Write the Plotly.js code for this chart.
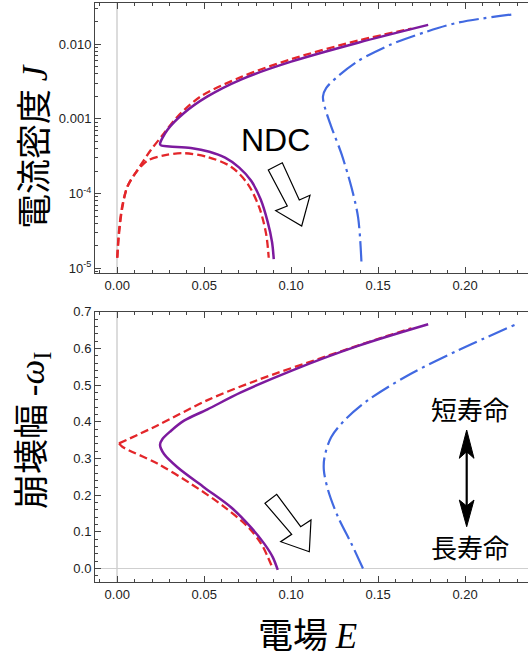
<!DOCTYPE html>
<html>
<head>
<meta charset="utf-8">
<script src="https://cdn.plot.ly/plotly-3.0.1.min.js"></script>
<style>html,body{margin:0;padding:0;background:#fff;}#chart{width:528px;height:659px;}</style>
</head>
<body>
<div id="chart"></div>
<script>
// ---------- data: top panel (current density J vs field E) ----------
const purpleTopE = [0.1788, 0.1385, 0.1000, 0.0711, 0.0519, 0.0384, 0.0288, 0.0246, 0.0253, 0.0300, 0.0423, 0.0530, 0.0620, 0.0700, 0.0770, 0.0825, 0.0865, 0.0890, 0.0900];
const purpleTopJ = [0.0182, 0.0105, 0.00585, 0.00337, 0.0020, 0.0012, 0.00071, 0.00046, 0.00044, 0.000427, 0.000407, 0.000363, 0.000302, 0.000224, 0.000148, 0.0000832, 0.0000417, 0.0000224, 0.0000132];

const redUpTopE = [0.0000, 0.0010, 0.0029, 0.0058, 0.0115, 0.0192, 0.0260, 0.0346, 0.0480, 0.0711, 0.1000, 0.1385, 0.1692];
const redUpTopJ = [0.0000138, 0.0000288, 0.0000646, 0.000123, 0.000204, 0.00038, 0.000603, 0.00107, 0.0020, 0.00363, 0.00631, 0.0112, 0.0162];

const redLoTopE = [0.0000, 0.0010, 0.0030, 0.0060, 0.0100, 0.0173, 0.0269, 0.0384, 0.0519, 0.0654, 0.0750, 0.0817, 0.0856, 0.0871];
const redLoTopJ = [0.0000138, 0.0000316, 0.0000708, 0.000126, 0.000182, 0.000275, 0.000324, 0.000347, 0.000309, 0.000229, 0.000135, 0.0000646, 0.0000288, 0.0000138];

const blueTopE = [0.1404, 0.1385, 0.1346, 0.1288, 0.1230, 0.1192, 0.1183, 0.1202, 0.1269, 0.1385, 0.1577, 0.1769, 0.1960, 0.2288];
const blueTopJ = [0.0000123, 0.0000479, 0.000123, 0.000347, 0.000794, 0.00148, 0.0020, 0.0026, 0.00372, 0.00596, 0.0100, 0.0145, 0.0195, 0.0254];

// ---------- data: bottom panel (decay width -omega_I vs field E) ----------
const purpleBotE = [0.1788, 0.1385, 0.1000, 0.0711, 0.0519, 0.0384, 0.0308, 0.0260, 0.0246, 0.0269, 0.0346, 0.0500, 0.0654, 0.0769, 0.0846, 0.0894, 0.0923];
const purpleBotW = [0.666, 0.607, 0.539, 0.480, 0.434, 0.403, 0.375, 0.353, 0.337, 0.312, 0.276, 0.221, 0.167, 0.112, 0.067, 0.031, -0.004];

const redUpBotE = [0.0010, 0.0231, 0.0519, 0.0808, 0.1192, 0.1480, 0.1692];
const redUpBotW = [0.341, 0.390, 0.459, 0.514, 0.577, 0.623, 0.655];

const redLoBotE = [0.0010, 0.0029, 0.0231, 0.0423, 0.0615, 0.0750, 0.0827, 0.0865, 0.0894];
const redLoBotW = [0.341, 0.332, 0.286, 0.231, 0.168, 0.114, 0.068, 0.032, 0.000];

const blueBotE = [0.1413, 0.1346, 0.1269, 0.1212, 0.1188, 0.1192, 0.1230, 0.1307, 0.1442, 0.1673, 0.1960, 0.2288];
const blueBotW = [0.000, 0.068, 0.141, 0.214, 0.268, 0.304, 0.358, 0.404, 0.459, 0.527, 0.595, 0.665];

// ---------- tick labels ----------
const xTickVals = [0, 0.05, 0.10, 0.15, 0.20];
const xTickText = ['0.00', '0.05', '0.10', '0.15', '0.20'];
const jTickVals = [1e-5, 1e-4, 1e-3, 1e-2];
const jTickText = ['10<sup>-5</sup>', '10<sup>-4</sup>', '0.001', '0.010'];

// ---------- styles ----------
const PURPLE = '#7d1a9e', RED = '#e3262a', BLUE = '#4169e1';
const redDash = '8px,4px';
const blueDash = '20px,5px,3px,5px';
const W = 528, H = 659, ML = 95, MR = 0, MT = 3, MB = 77;
const px = x => (x - ML) / (W - ML - MR);
const py = y => (H - MB - y) / (H - MT - MB);
const path = pts => 'M' + pts.map(p => px(p[0]) + ',' + py(p[1])).join('L') + 'Z';

function tr(x, y, color, dash, xa, ya, width) {
  return {x: x, y: y, type: 'scatter', mode: 'lines', xaxis: xa, yaxis: ya,
    line: {color: color, width: width || 2.3, dash: dash, shape: 'spline', smoothing: 0.9},
    hoverinfo: 'skip'};
}

const data = [
  tr(redUpTopE, redUpTopJ, RED, redDash, 'x', 'y'),
  tr(redLoTopE, redLoTopJ, RED, redDash, 'x', 'y'),
  tr(purpleTopE, purpleTopJ, PURPLE, 'solid', 'x', 'y', 2.5),
  tr(blueTopE, blueTopJ, BLUE, blueDash, 'x', 'y', 2.2),
  tr(redUpBotE, redUpBotW, RED, redDash, 'x2', 'y2'),
  tr(redLoBotE, redLoBotW, RED, redDash, 'x2', 'y2'),
  tr(purpleBotE, purpleBotW, PURPLE, 'solid', 'x2', 'y2', 2.5),
  tr(blueBotE, blueBotW, BLUE, blueDash, 'x2', 'y2', 2.2)
];

const tickFont = {family: 'Liberation Sans, Arial, sans-serif', size: 13, color: '#222'};
const AX = '#444';
function xAxis(anchor) {
  return {anchor: anchor, domain: [0, 1], range: [-0.0128, 0.2362],
    tickmode: 'array', tickvals: xTickVals, ticktext: xTickText,
    ticks: 'inside', ticklen: 6, tickwidth: 1, tickcolor: AX,
    minor: {ticks: 'inside', ticklen: 3, dtick: 0.01, tick0: 0, tickcolor: AX, showgrid: false},
    showline: true, linecolor: AX, linewidth: 1, mirror: 'ticks',
    showgrid: false, zeroline: true, zerolinecolor: '#dcdcdc', zerolinewidth: 2,
    tickfont: tickFont};
}

const layout = {
  width: W, height: H,
  margin: {l: ML, r: MR, t: MT, b: MB, pad: 0},
  paper_bgcolor: '#fff', plot_bgcolor: '#fff',
  showlegend: false,
  xaxis: xAxis('y'),
  xaxis2: xAxis('y2'),
  yaxis: {type: 'log', domain: [0.533, 1], range: [-5.07, -1.447], anchor: 'x',
    tickmode: 'array', tickvals: jTickVals, ticktext: jTickText,
    ticks: 'inside', ticklen: 6, tickwidth: 1, tickcolor: AX,
    minor: {ticks: 'inside', ticklen: 3, dtick: 'D1', tickcolor: AX, showgrid: false},
    showline: true, linecolor: AX, linewidth: 1, mirror: false,
    showgrid: false, zeroline: false, tickfont: tickFont},
  yaxis2: {domain: [0, 0.467], range: [-0.037, 0.7005], anchor: 'x2',
    tick0: 0, dtick: 0.1, tickformat: '.1f',
    ticks: 'inside', ticklen: 6, tickwidth: 1, tickcolor: AX,
    minor: {ticks: 'inside', ticklen: 3, dtick: 0.02, tick0: 0, tickcolor: AX, showgrid: false},
    showline: true, linecolor: AX, linewidth: 1, mirror: false,
    showgrid: false, zeroline: true, zerolinecolor: '#cfcfcf', zerolinewidth: 1,
    tickfont: tickFont},
  annotations: [
    {xref: 'paper', yref: 'paper', x: px(31), y: py(147), xanchor: 'center', yanchor: 'middle',
     textangle: -90, showarrow: false,
     text: '電流密度 <span style="font-family:Liberation Serif, serif;font-style:italic">J</span>',
     font: {family: 'Noto Sans CJK JP, sans-serif', size: 35, color: '#000'}},
    {xref: 'paper', yref: 'paper', x: px(29), y: py(431), xanchor: 'center', yanchor: 'middle',
     textangle: -90, showarrow: false,
     text: '崩壊幅 <span style="font-family:Liberation Serif, serif">-<i>ω</i><sub>I</sub></span>',
     font: {family: 'Noto Sans CJK JP, sans-serif', size: 35, color: '#000'}},
    {xref: 'paper', yref: 'paper', x: px(307), y: py(632), xanchor: 'center', yanchor: 'middle',
     showarrow: false,
     text: '電場 <span style="font-family:Liberation Serif, serif;font-style:italic">E</span>',
     font: {family: 'Noto Sans CJK JP, sans-serif', size: 35, color: '#000'}},
    {xref: 'paper', yref: 'paper', x: px(275), y: py(140), xanchor: 'center', yanchor: 'middle',
     showarrow: false, text: 'NDC',
     font: {family: 'Liberation Sans, Arial, sans-serif', size: 32, color: '#000'}},
    {xref: 'paper', yref: 'paper', x: px(470), y: py(408.5), xanchor: 'center', yanchor: 'middle',
     showarrow: false, text: '短寿命',
     font: {family: 'Noto Sans CJK JP, sans-serif', size: 26, color: '#000'}},
    {xref: 'paper', yref: 'paper', x: px(470), y: py(546.5), xanchor: 'center', yanchor: 'middle',
     showarrow: false, text: '長寿命',
     font: {family: 'Noto Sans CJK JP, sans-serif', size: 26, color: '#000'}}
  ],
  shapes: [
    // hollow arrow, top panel
    {type: 'path', xref: 'paper', yref: 'paper', fillcolor: '#fff',
     line: {color: '#000', width: 1.2},
     path: path([[268.3, 170], [282.3, 162.7], [299.3, 200], [310, 195.3], [301.7, 226], [275.7, 210.7], [287.3, 206]])},
    // hollow arrow, bottom panel
    {type: 'path', xref: 'paper', yref: 'paper', fillcolor: '#fff',
     line: {color: '#000', width: 1.2},
     path: path([[265, 503.3], [276.7, 494.3], [300.7, 526.7], [311, 520], [309.3, 551.7], [280.7, 541.7], [291.7, 534.3]])},
    // double-headed arrow
    {type: 'line', xref: 'paper', yref: 'paper', x0: px(466.7), x1: px(466.7), y0: py(448), y1: py(510),
     line: {color: '#000', width: 2.2}},
    {type: 'path', xref: 'paper', yref: 'paper', fillcolor: '#000', line: {color: '#000', width: 1},
     path: path([[466.7, 430], [474, 458.3], [466.7, 451.7], [459.3, 458.3]])},
    {type: 'path', xref: 'paper', yref: 'paper', fillcolor: '#000', line: {color: '#000', width: 1},
     path: path([[466.7, 526.7], [474, 500], [466.7, 506], [459.3, 500]])}
  ]
};

Plotly.newPlot('chart', data, layout, {displayModeBar: false, staticPlot: true});
</script>
</body>
</html>
